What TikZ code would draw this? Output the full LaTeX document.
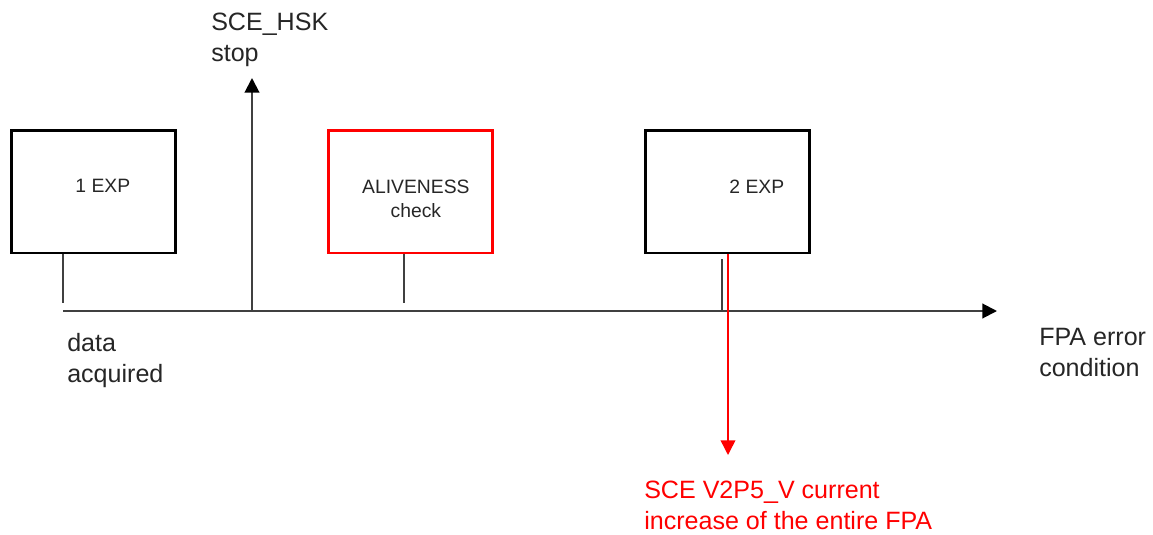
\documentclass[tikz,border=0pt]{standalone}
\usepackage{fontspec}
\setmainfont{Liberation Sans}
\usetikzlibrary{arrows.meta,positioning}

\begin{document}
\begin{tikzpicture}[x=0.75pt,y=-0.75pt,
    phase/.style={draw=black, line width=2pt, minimum width=123pt, minimum height=92pt, inner sep=0pt},
    boxtext/.style={font=\fontsize{14.5}{18}\selectfont, text=black!85, align=center, inner sep=0pt},
    lbl/.style={font=\fontsize{18.8}{23}\selectfont, align=left, inner sep=0pt, text=black!85},
    tick/.style={draw=black!75, line width=1.5pt},
    tip/.style={-{Triangle[length=11pt,width=11pt]}},
    blacktip/.style={-{Triangle[length=11pt,width=11pt,color=black]}}]
  \useasboundingbox (0,0) rectangle (1153,535);
  % time line
  \coordinate (t0) at (63,311);
  \coordinate (tend) at (997,311);
  \draw[tick,blacktip] (t0) -- (tend);
  \node[lbl, anchor=north west] (fpa) at (1039,328) {FPA error\\condition};
  % phases
  \node[phase, label={[boxtext,xshift=7pt,yshift=4pt]center:1 EXP}] (exp1) at (93.5,191.5) {};
  \node[phase, draw=red, label={[boxtext,xshift=4pt,yshift=-5.5pt]center:ALIVENESS\\check}] (alive) at (410.5,191.5) {};
  \node[phase, label={[boxtext,xshift=22pt,yshift=3.5pt]center:2 EXP}] (exp2) at (727.5,191.5) {};
  % ticks
  \coordinate (acq) at (63,303);
  \draw[tick] (exp1.south -| acq) -- (acq);
  \node[lbl, anchor=north west] (data) at (67,333) {data\\acquired};
  \coordinate (chk) at (404,303);
  \draw[tick] (alive.south -| chk) -- (chk);
  \coordinate (e2) at (722,259);
  \draw[tick] (e2) -- (e2 |- t0);
  % SCE_HSK stop
  \node[lbl, anchor=north west] (hsk) at (211,13) {SCE\_HSK\\stop};
  \coordinate (hskfoot) at (252,311);
  \coordinate (hsktop) at (252,78);
  \draw[tick,blacktip] (hskfoot) -- (hsktop);
  % FPA current increase
  \coordinate (err) at (728,455);
  \draw[red, line width=1.1pt, tip] (exp2.south -| err) -- (err);
  \node[lbl, text=red, anchor=north west] (v2p5) at (644,481) {SCE V2P5\_V current\\increase of the entire FPA};
\end{tikzpicture}
\end{document}
